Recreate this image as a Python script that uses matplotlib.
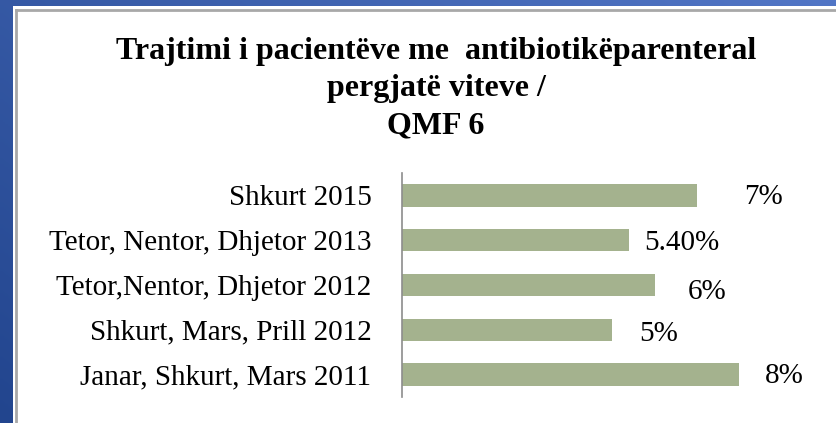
import numpy as np
import matplotlib.pyplot as plt
from matplotlib.patches import Rectangle

# data (top to bottom)
categories = ['Shkurt 2015', 'Tetor, Nentor, Dhjetor 2013', 'Tetor,Nentor, Dhjetor 2012',
              'Shkurt, Mars, Prill 2012', 'Janar, Shkurt, Mars 2011']
values = [7.0, 5.4, 6.0, 5.0, 8.0]
value_labels = ['7%', '5.40%', '6%', '5%', '8%']
# hand placed label offsets (points) as in the original slide
label_dx = [34, 11, 24, 19, 19]
label_dy = [-1, -2, -5, -3, -1]

title = 'Trajtimi i pacientëve me  antibiotikëparenteral\npergjatë viteve /\nQMF 6'

plt.rcParams['font.family'] = ['Liberation Serif', 'DejaVu Serif']

W, H = 837, 423
fig = plt.figure(figsize=(W / 100, H / 100), dpi=100)

# blue slide background with gradient
bg = fig.add_axes([0, 0, 1, 1])
gx, gy = np.meshgrid(np.linspace(0, 1, 200), np.linspace(0, 1, 200))
t = np.clip(0.6 * gx + 0.4 * (1 - gy), 0, 1)
c0 = np.array([0x22, 0x45, 0x8e]) / 255
c1 = np.array([0x52, 0x76, 0xc6]) / 255
img = c0[None, None, :] * (1 - t[..., None]) + c1[None, None, :] * t[..., None]
bg.imshow(img, extent=[0, 1, 0, 1], aspect='auto', origin='upper')
bg.add_patch(Rectangle((13 / W, 0), 1, 1 - 6 / H, facecolor='white', edgecolor='none'))
bg.plot([16 / W, 16 / W], [0, 1 - 10 / H], color='#a8a8a8', lw=2)
bg.plot([16 / W, 1], [1 - 10 / H, 1 - 10 / H], color='#a8a8a8', lw=2)
bg.set_xlim(0, 1)
bg.set_ylim(0, 1)
bg.axis('off')

fig.text(436 / W, 1 - 37 / H, title, ha='center', va='top', fontsize=23,
         fontweight='bold', linespacing=1.38)

ax = fig.add_axes([402 / W, 26 / H, 421 / W, 224 / H])
ax.patch.set_alpha(0)
y = np.arange(len(categories))
ax.barh(y, values, height=0.5, color='#a4b28e')
ax.set_ylim(len(categories) - 0.5, -0.5)
ax.set_xlim(0, 10)
ax.set_yticks(y)
ax.set_yticklabels(categories, fontsize=21)
ax.tick_params(axis='y', length=0, pad=22)
ax.set_xticks([])
for s in ['top', 'right', 'bottom']:
    ax.spines[s].set_visible(False)
ax.spines['left'].set_color('#8c8c8c')
ax.spines['left'].set_linewidth(1.2)

for i in range(len(values)):
    ax.annotate(value_labels[i], (values[i], y[i]), xytext=(label_dx[i], label_dy[i]),
                textcoords='offset points', ha='left', va='center', fontsize=21)

fig.savefig('out.png', dpi=100)
